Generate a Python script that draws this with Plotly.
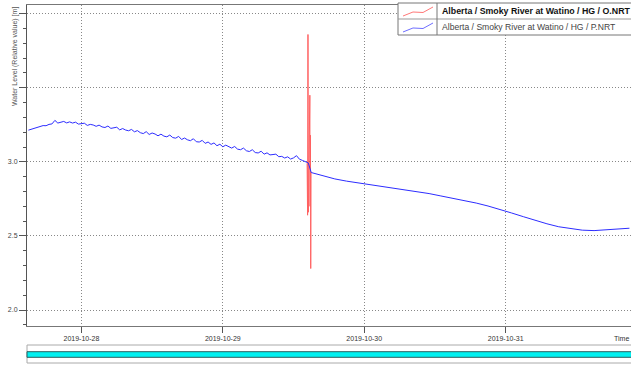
import pandas as pd
import plotly.graph_objects as go

# ---------------- data ----------------
# P.NRT (blue) before the disturbance: 30-minute steps from 2019-10-27 15:00
pre_start = "2019-10-27 15:00"
pre_values = [
    3.214, 3.220, 3.224, 3.233, 3.235, 3.245, 3.244, 3.253, 3.256, 3.280, 3.262, 3.270,
    3.273, 3.263, 3.270, 3.262, 3.268, 3.255, 3.257, 3.261, 3.246, 3.253, 3.249, 3.240,
    3.248, 3.236, 3.232, 3.242, 3.226, 3.229, 3.234, 3.216, 3.225, 3.215, 3.210, 3.219,
    3.203, 3.211, 3.197, 3.191, 3.204, 3.185, 3.195, 3.188, 3.176, 3.187, 3.174, 3.169,
    3.181, 3.164, 3.160, 3.172, 3.151, 3.161, 3.149, 3.143, 3.156, 3.136, 3.134, 3.145,
    3.125, 3.134, 3.118, 3.128, 3.109, 3.119, 3.102, 3.113, 3.100, 3.093, 3.104, 3.086,
    3.082, 3.093, 3.075, 3.070, 3.082, 3.063, 3.060, 3.072, 3.052, 3.061, 3.047, 3.049,
    3.052, 3.035, 3.037, 3.026, 3.034, 3.019, 3.027, 3.042, 3.018, 3.010, 3.000, 2.993,
]
# P.NRT (blue) after the disturbance: 2-hour steps from 2019-10-29 15:00
post_start = "2019-10-29 15:00"
post_values = [
    2.928, 2.905, 2.885, 2.870, 2.858, 2.846, 2.836, 2.826, 2.814, 2.800,
    2.786, 2.770, 2.755, 2.738, 2.722, 2.702, 2.680, 2.655, 2.630, 2.605,
    2.582, 2.562, 2.548, 2.539, 2.536, 2.540, 2.546, 2.552,
]
# O.NRT (red) spike readings
red_times = [
    "2019-10-29 14:18", "2019-10-29 14:20", "2019-10-29 14:23", "2019-10-29 14:27",
    "2019-10-29 14:31", "2019-10-29 14:46", "2019-10-29 14:48", "2019-10-29 14:52",
    "2019-10-29 14:55", "2019-10-29 14:58",
]
red_values = [2.99, 3.42, 2.64, 3.86, 2.66, 3.45, 2.70, 3.18, 2.28, 2.93]

x_ticks = ["2019-10-28", "2019-10-29", "2019-10-30", "2019-10-31"]
y_ticks = [2.0, 2.5, 3.0, 3.5, 4.0]
y_tick_text = ["2.0", "2.5", "3.0", "", ""]

name_o = "Alberta / Smoky River at Watino / HG / O.NRT"
name_p = "Alberta / Smoky River at Watino / HG / P.NRT"
y_title = "Water Level (Relative value) [m]"
x_title = "Time"

# ---------------- figure ----------------
pre_times = pd.date_range(pre_start, periods=len(pre_values), freq="30min")
post_times = pd.date_range(post_start, periods=len(post_values), freq="2h")
blue_x = list(pre_times) + list(post_times)
blue_y = pre_values + post_values

FONT = "Liberation Sans, Arial, sans-serif"
L, T, B, W, H = 27, 5, 41, 631, 367
PW, PH = W - L, H - T - B


def px(X):
    return (X - L) / PW


def py(Y):
    return (H - B - Y) / PH


fig = go.Figure()
fig.add_trace(go.Scatter(
    x=pd.to_datetime(red_times), y=red_values, mode="lines", name=name_o,
    line=dict(color="rgb(255,70,70)", width=1), opacity=0.85, showlegend=False,
))
fig.add_trace(go.Scatter(
    x=blue_x, y=blue_y, mode="lines", name=name_p,
    line=dict(color="rgb(45,45,255)", width=1), showlegend=False,
))

fig.update_layout(
    width=W, height=H,
    margin=dict(l=L, r=0, t=T, b=B, autoexpand=False),
    paper_bgcolor="white", plot_bgcolor="white",
    font=dict(family=FONT, size=7, color="#444"),
    showlegend=False,
)

DOT = "1px,2px"
fig.update_xaxes(
    type="date",
    range=["2019-10-27 14:46", "2019-10-31 21:16"],
    tickvals=x_ticks, tickformat="%Y-%m-%d",
    ticks="outside", ticklen=6, tickcolor="#555",
    showline=True, linecolor="#777", linewidth=1, mirror=True,
    showgrid=True, gridcolor="#888", griddash=DOT, gridwidth=1,
    zeroline=False,
    tickfont=dict(family=FONT, size=7, color="#333"),
)
fig.update_yaxes(
    range=[1.892, 4.059],
    tickvals=y_ticks, ticktext=y_tick_text,
    ticks="outside", ticklen=7, tickcolor="#555",
    minor=dict(dtick=0.1, tick0=0, ticks="outside", ticklen=3, tickcolor="#555", showgrid=False),
    showline=True, linecolor="#555", linewidth=1,
    showgrid=True, gridcolor="#888", griddash=DOT, gridwidth=1,
    zeroline=False,
    tickfont=dict(family=FONT, size=7, color="#444"),
)

# y-axis title placed near the top like the original
fig.add_annotation(
    text=y_title, textangle=-90, showarrow=False,
    xref="paper", yref="paper", x=px(15), y=py(57),
    xanchor="center", yanchor="middle",
    font=dict(family=FONT, size=7, color="#555"),
)
# x-axis title at the right end
fig.add_annotation(
    text=x_title, showarrow=False,
    xref="paper", yref="paper", x=px(612), y=py(339),
    xanchor="left", yanchor="middle",
    font=dict(family=FONT, size=7, color="#333"),
)

# ----- legend box (drawn like the original table legend) -----
fig.add_shape(type="rect", xref="paper", yref="paper", x0=px(398), x1=px(640), y0=py(35), y1=py(3),
              line=dict(color="#777", width=1), fillcolor="white", layer="above")
fig.add_shape(type="line", xref="paper", yref="paper", x0=px(398), x1=px(640), y0=py(19), y1=py(19),
              line=dict(color="#999", width=1), layer="above")
fig.add_shape(type="line", xref="paper", yref="paper", x0=px(437), x1=px(437), y0=py(35), y1=py(3),
              line=dict(color="#777", width=1), layer="above")


def icon_path(yc):
    pts = [(403, yc + 5), (413, yc + 1), (423, yc + 1.5), (433, yc - 4)]
    return "M " + " L ".join(f"{px(a):.5f},{py(b):.5f}" for a, b in pts)


fig.add_shape(type="path", xref="paper", yref="paper", path=icon_path(11),
              line=dict(color="rgb(255,120,120)", width=1), layer="above")
fig.add_shape(type="path", xref="paper", yref="paper", path=icon_path(27),
              line=dict(color="rgb(110,110,255)", width=1), layer="above")
fig.add_annotation(text="<b>" + name_o + "</b>", showarrow=False, xref="paper", yref="paper",
                   x=px(440), y=py(11.5), xanchor="left", yanchor="middle",
                   font=dict(family=FONT, size=8.8, color="#111"))
fig.add_annotation(text=name_p, showarrow=False, xref="paper", yref="paper",
                   x=px(440), y=py(27.5), xanchor="left", yanchor="middle",
                   font=dict(family=FONT, size=8.6, color="#444"))

# overview bar under the chart
fig.add_shape(type="rect", xref="paper", yref="paper", x0=0, x1=px(640), y0=py(363), y1=py(345),
              line=dict(color="#aaa", width=1), fillcolor="white", layer="above")
fig.add_shape(type="rect", xref="paper", yref="paper", x0=0, x1=px(640), y0=py(357.3), y1=py(351.7),
              line=dict(color="#2a5e5e", width=1), fillcolor="#00f0f0", layer="above")

fig.write_html(
    "out.html",
    config={"displayModeBar": False},
    post_script="document.body.style.margin='0';document.body.style.overflow='hidden';",
)
